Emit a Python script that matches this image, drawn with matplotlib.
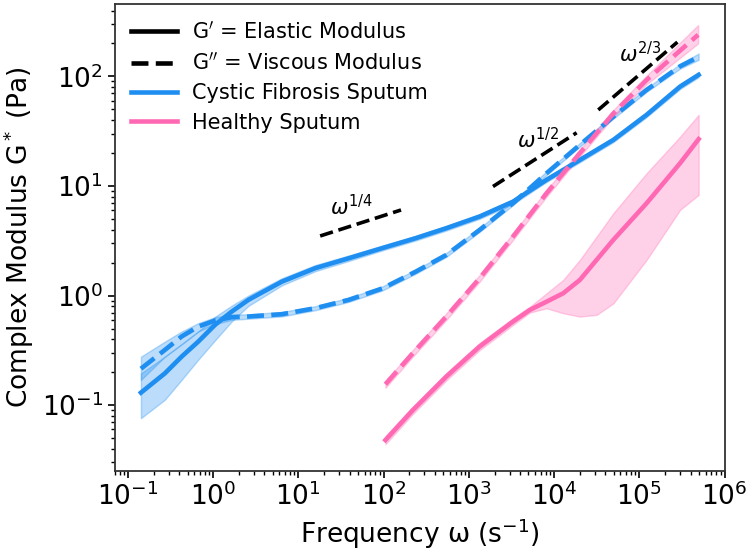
import matplotlib
matplotlib.use("Agg")
import matplotlib.pyplot as plt
from matplotlib.lines import Line2D
from matplotlib.ticker import LogLocator, NullFormatter
import numpy as np

BLUE = "#1f8ef1"
PINK = "#ff69b4"

# cystic fibrosis sputum: frequency grid shared by G' and G''
cf_w = [0.142, 0.271, 0.426, 0.668, 1.05, 1.65, 2.59, 6.4, 15.8, 38.9, 96,
        237, 543, 1340, 3300, 8170, 2.01e4, 4.97e4, 1.22e5, 3.02e5, 4.97e5]
cf_el = [0.13, 0.195, 0.277, 0.38, 0.54, 0.714, 0.914, 1.34, 1.78, 2.19, 2.71,
         3.34, 4.12, 5.27, 7.2, 11.4, 17.3, 26.4, 44.7, 81, 103.5]
cf_el_lo = [0.076, 0.112, 0.17, 0.26, 0.39, 0.58, 0.805, 1.24, 1.67, 2.07, 2.58,
            3.18, 3.92, 5.02, 6.85, 10.9, 16.5, 25.2, 42.6, 77, 98.5]
cf_el_hi = [0.195, 0.277, 0.36, 0.47, 0.64, 0.81, 1.0, 1.44, 1.9, 2.32, 2.85,
            3.5, 4.32, 5.53, 7.55, 11.9, 18.1, 27.6, 46.8, 85, 108.5]
cf_vis = [0.215, 0.319, 0.423, 0.521, 0.592, 0.635, 0.644, 0.676, 0.767, 0.914, 1.16,
          1.65, 2.35, 3.98, 6.97, 13.1, 23.8, 43, 75.5, 124, 151]
cf_vis_lo = [0.17, 0.277, 0.36, 0.47, 0.55, 0.6, 0.615, 0.645, 0.735, 0.875, 1.11,
             1.58, 2.25, 3.82, 6.7, 12.6, 22.9, 41.3, 72.5, 118, 142]
cf_vis_hi = [0.277, 0.38, 0.47, 0.56, 0.635, 0.67, 0.675, 0.71, 0.8, 0.955, 1.21,
             1.72, 2.45, 4.15, 7.25, 13.6, 24.7, 44.7, 78.5, 130, 162]

# healthy sputum, elastic modulus G'
h_w_el = [105, 220, 543, 1340, 3300, 5200, 8170, 1.28e4, 2.01e4, 3.16e4, 4.97e4,
          1.22e5, 3.02e5, 4.97e5]
h_el = [0.048, 0.09, 0.182, 0.343, 0.58, 0.74, 0.88, 1.05, 1.39, 2.12, 3.23,
        6.97, 16.2, 26.8]
h_el_lo = [0.044, 0.083, 0.168, 0.318, 0.54, 0.70, 0.766, 0.69, 0.643, 0.667, 0.85,
           2.12, 6.07, 8.3]
h_el_hi = [0.052, 0.097, 0.196, 0.37, 0.62, 0.79, 1.05, 1.39, 2.12, 3.46, 5.66,
           13.1, 28.3, 44.7]

# healthy sputum, viscous modulus G''
h_w_vis = [105, 220, 543, 1340, 3300, 8170, 2.01e4, 4.97e4, 1.22e5, 4.9e5]
h_vis = [0.155, 0.298, 0.643, 1.44, 3.46, 8.6, 20, 46, 93, 240]
h_vis_lo = [0.144, 0.277, 0.598, 1.34, 3.22, 8.0, 18.6, 42.8, 85, 200]
h_vis_hi = [0.166, 0.319, 0.688, 1.54, 3.7, 9.2, 21.4, 49.5, 102, 295]

# power-law guide lines
guide_x = [[18, 160], [1920, 18400], [33000, 280000]]
guide_y0 = [3.5, 9.9, 49.5]
guide_exp = [1 / 4, 1 / 2, 2 / 3]
guide_labels = [r"$\omega^{1/4}$", r"$\omega^{1/2}$", r"$\omega^{2/3}$"]
guide_text_pos = [(42, 6.5), (6500, 26.5), (1.02e5, 161)]

fig = plt.figure(figsize=(7.5, 5.51), dpi=100)
ax = fig.add_axes([0.153, 0.145, 0.814, 0.848])

lw = 3.3
ax.fill_between(cf_w, cf_el_lo, cf_el_hi, color=BLUE, alpha=0.3)
ax.fill_between(cf_w, cf_vis_lo, cf_vis_hi, color=BLUE, alpha=0.3)
ax.fill_between(h_w_el, h_el_lo, h_el_hi, color=PINK, alpha=0.3)
ax.fill_between(h_w_vis, h_vis_lo, h_vis_hi, color=PINK, alpha=0.3)

ax.plot(cf_w, cf_el, color=BLUE, lw=lw)
ax.plot(cf_w, cf_vis, color=BLUE, lw=lw, ls="--")
ax.plot(h_w_el, h_el, color=PINK, lw=lw)
ax.plot(h_w_vis, h_vis, color=PINK, lw=lw, ls="--")

for xs, y0, k, lab, pos in zip(guide_x, guide_y0, guide_exp, guide_labels, guide_text_pos):
    ys = [y0, y0 * (xs[1] / xs[0]) ** k]
    ax.plot(xs, ys, color="black", lw=2.6, ls="--")
    ax.text(pos[0], pos[1], lab, fontsize=15, ha="center", va="center")

ax.set_xscale("log")
ax.set_yscale("log")
ax.set_xlim(0.07, 1.02e6)
ax.set_ylim(0.025, 460)
ax.xaxis.set_major_locator(LogLocator(base=10, numticks=20))
ax.xaxis.set_minor_locator(LogLocator(base=10, subs=np.arange(2, 10), numticks=20))
ax.xaxis.set_minor_formatter(NullFormatter())
ax.set_xlabel(r"Frequency ω (s$^{-1}$)", fontsize=19)
ax.set_ylabel(r"Complex Modulus G$^*$ (Pa)", fontsize=19)
ax.tick_params(axis="both", which="major", labelsize=19, length=5, width=1.2)
ax.tick_params(axis="both", which="minor", length=3, width=1)
for s in ax.spines.values():
    s.set_color("#333333")
    s.set_linewidth(1.3)

handles = [
    Line2D([], [], color="black", lw=lw),
    Line2D([], [], color="black", lw=lw, ls="--"),
    Line2D([], [], color=BLUE, lw=lw),
    Line2D([], [], color=PINK, lw=lw),
]
labels = [
    r"G$^{\prime}$ = Elastic Modulus",
    r"G$^{\prime\prime}$ = Viscous Modulus",
    "Cystic Fibrosis Sputum",
    "Healthy Sputum",
]
ax.legend(handles, labels, loc="upper left", frameon=False, fontsize=15,
          handlelength=2.2, handletextpad=0.7, labelspacing=0.45,
          borderpad=0.2, borderaxespad=0.6)

fig.savefig("out.png", dpi=100)
